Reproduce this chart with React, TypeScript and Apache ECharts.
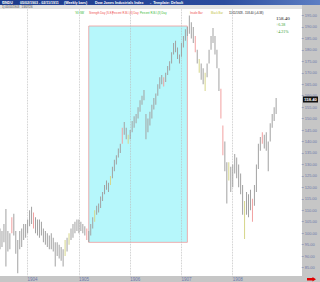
import React, { useEffect, useRef } from "react";
import * as echarts from "echarts";

// Time axis: one slot ≈ two weeks; year boundaries fall on these slots
const yearLabels = ["1904", "1905", "1906", "1907", "1908"];
const yearIndex = [14, 40, 66, 92, 118];
const totalSlots = 154;

// Bar lows / highs
const lows = [
  93, 94, 96, 85.5, 92, 93, 100, 99, 91, 82.5,
  93, 94, 97, 98, 100, 103, 104, 102, 100, 99,
  98, 99, 96, 95, 94, 93, 93, 92, 85.5, 90,
  89, 88, 85.5, 90, 92, 95, 97, 98, 100, 101,
  100, 101, 100, 99, 97, 96, 99, 102, 105, 108,
  109, 111, 114, 117, 119, 118, 121, 124, 127, 130,
  133, 135, 139, 143, 141, 139, 141, 144, 146, 148,
  150, 153, 156, 158, 141, 144, 147, 150, 154, 156,
  160, 163, 165, 164, 166, 169, 171, 174, 178, 179,
  176, 174, 177, 181, 184, 186, 187, 185, 183, 179,
  174, 170, 167, 165, 162, 168, 174, 180, 183, 178,
  172, 162, 150, 134, 127, 113, 123, 118, 120, 126,
  124, 120, 117, 108, 97.5, 108, 107, 110, 105, 112,
  118, 128, 136, 139, 137, 136, 127, 140, 146, 149,
  152,
];
const highs = [
  102, 101, 104, 110.5, 101, 100, 107, 108.5, 101, 97,
  101, 102, 104, 104, 106, 110, 111.5, 109, 107, 106,
  106, 105, 102, 101, 100, 99, 100, 98, 96, 96,
  95, 94, 93, 97, 98, 100, 102, 104, 105, 106,
  106, 105, 104, 103, 102, 101, 104, 107, 110, 112,
  113, 116, 118, 121, 123, 122, 125, 129, 132, 134,
  137, 139, 146, 148.5, 146, 143, 145, 149, 151, 152,
  155, 158, 160, 162.5, 152, 150, 153, 156, 159, 161,
  165, 168, 169, 168, 170, 173, 175, 179, 183, 184,
  181, 178, 183, 186, 189, 190, 195, 192, 190, 186,
  180, 176, 174, 172, 170, 174, 180, 186, 189.5, 186,
  180, 172, 163, 147, 140, 131, 131, 129, 130, 134.5,
  133, 130, 126, 121, 114, 118, 117, 119, 115, 121,
  130, 139, 142, 144, 143, 144, 140, 148, 152, 155,
  159,
];
const redBars = [6, 17, 44, 62, 83, 99, 112, 113, 128, 133];
const yellowBars = [33, 35, 48, 56, 65, 101, 104, 116, 124];
const barColors = ["#a2a2a2", "#f2a0a0", "#d6d68a"];

// Highlight box (slot range and price range)
const boxStart = 45;
const boxEnd = 95;
const boxLow = 96;
const boxHigh = 190.4;

const lastPrice = "158.40";
const change = "+6.38";
const changePct = "+4.21%";

const titleParts = [
  { text: "$INDU", x: 2 },
  { text: "05/02/1903 - 02/11/1911", x: 20 },
  { text: "(Weekly bars)", x: 64 },
  { text: "Dow Jones Industrials Index", x: 95 },
  { text: "-  Template: Default", x: 150 },
];
const legendItems = [
  { text: "'93 ISB'", x: 75, color: "#33b833" },
  { text: "Strength Day (S.E.)", x: 89, color: "#ee4a4a" },
  { text: "Percent R.B.I.(3) Day", x: 112, color: "#ee4a4a" },
  { text: "Percent R.B.I.(3) Day", x: 140, color: "#33b833" },
  { text: "Inside Bar", x: 190, color: "#ee4a4a" },
  { text: "Black Bar", x: 211, color: "#c2c23c" },
  { text: "11/11/1928 - 158.40 (+6.38)", x: 229, color: "#111" },
];

const FONT = "Liberation Sans";

export default function App() {
  const ref = useRef<HTMLDivElement>(null);

  useEffect(() => {
    if (!ref.current) return;
    const chart = echarts.init(ref.current, undefined, { renderer: "svg" });
    const cats = Array.from({ length: totalSlots }, (_, i) => String(i));
    const barData = lows.map((l, i) => [
      i,
      l,
      highs[i],
      redBars.includes(i) ? 1 : yellowBars.includes(i) ? 2 : 0,
    ]);
    const isYear = (idx: number) => yearIndex.includes(idx);

    const graphic: any[] = [
      { type: "rect", z: 0.5, shape: { x: 302, y: 5, width: 18, height: 277 }, style: { fill: "#c6c6c6" } },
      { type: "rect", z: 0.5, shape: { x: 0, y: 276, width: 320, height: 6 }, style: { fill: "#c6c6c6" } },
      {
        type: "rect", z: 100, shape: { x: 0, y: 0, width: 320, height: 5 },
        style: {
          fill: new echarts.graphic.LinearGradient(0, 0, 1, 0, [
            { offset: 0, color: "#1d3b8c" },
            { offset: 0.7, color: "#2b4c9e" },
            { offset: 1, color: "#5d7fc4" },
          ]),
        },
      },
      { type: "rect", z: 100, shape: { x: 0, y: 5, width: 302, height: 4 }, style: { fill: "#e2e2e2" } },
      { type: "text", z: 101, x: 2, y: 7, style: { text: "1) 05/05/1903   13/07/26", fill: "#444", fontSize: 2.8, fontFamily: FONT, verticalAlign: "middle" } },
      ...titleParts.map((t) => ({
        type: "text", z: 101, x: t.x, y: 2.6,
        style: { text: t.text, fill: "#fff", fontSize: 3.6, fontWeight: "bold", fontFamily: FONT, verticalAlign: "middle" },
      })),
      ...legendItems.map((t) => ({
        type: "text", z: 101, x: t.x, y: 12.5,
        style: { text: t.text, fill: t.color, fontSize: 2.8, fontFamily: FONT, verticalAlign: "middle" },
      })),
      { type: "text", z: 101, x: 276, y: 18, style: { text: lastPrice, fill: "#111", fontSize: 5, fontFamily: "Liberation Serif", verticalAlign: "middle" } },
      { type: "text", z: 101, x: 276, y: 24.5, style: { text: change, fill: "#2a9a2a", fontSize: 4, fontFamily: "Liberation Serif", verticalAlign: "middle" } },
      { type: "text", z: 101, x: 276, y: 31, style: { text: changePct, fill: "#2a9a2a", fontSize: 4, fontFamily: "Liberation Serif", verticalAlign: "middle" } },
      { type: "rect", z: 102, shape: { x: 303, y: 96.5, width: 15, height: 6 }, style: { fill: "#111" } },
      { type: "text", z: 103, x: 304, y: 99.6, style: { text: lastPrice, fill: "#fff", fontSize: 4.2, fontWeight: "bold", fontFamily: FONT, verticalAlign: "middle" } },
      {
        type: "polygon", z: 102,
        shape: { points: [[307, 278], [312.5, 278], [312.5, 277], [316, 279.3], [312.5, 281.6], [312.5, 280.6], [307, 280.6]] },
        style: { fill: "#e00000" },
      },
    ];

    chart.setOption({
      animation: false,
      backgroundColor: "#ffffff",
      textStyle: { fontFamily: FONT },
      grid: { left: 0, right: 18, top: 4, bottom: 3, containLabel: false },
      xAxis: {
        type: "category",
        data: cats,
        boundaryGap: false,
        z: 2,
        axisLine: { show: false },
        axisTick: { show: false, interval: isYear },
        axisLabel: {
          interval: isYear,
          formatter: (_v: string, idx: number) => yearLabels[yearIndex.indexOf(idx)] ?? "",
          fontSize: 4.5,
          color: "#6d78aa",
          align: "left",
          margin: -2.5,
          fontFamily: FONT,
        },
        splitLine: { show: true, interval: isYear, lineStyle: { color: "#bdbdbd", type: "dotted", width: 0.8 } },
      },
      yAxis: {
        type: "value",
        position: "right",
        min: 80,
        max: 200,
        interval: 5,
        z: 60,
        axisLine: { show: false },
        axisTick: { show: true, length: 2, lineStyle: { color: "#7a84b0", width: 0.6 } },
        axisLabel: {
          formatter: (v: number) => v.toFixed(2),
          fontSize: 4,
          color: "#6d78aa",
          margin: 3,
          showMinLabel: false,
          showMaxLabel: false,
          fontFamily: FONT,
        },
        splitLine: { show: false },
      },
      series: [
        {
          type: "custom",
          z: 1,
          silent: true,
          data: [[boxStart, boxEnd, boxLow, boxHigh]],
          encode: { x: [0, 1], y: [2, 3] },
          renderItem: (_p: any, api: any) => {
            const a = api.coord([api.value(0), api.value(3)]);
            const b = api.coord([api.value(1), api.value(2)]);
            return {
              type: "rect",
              shape: { x: a[0], y: a[1], width: b[0] - a[0], height: b[1] - a[1] },
              style: { fill: "#b6f7fb", stroke: "#ee9a9a", lineWidth: 0.8 },
            };
          },
        },
        {
          type: "custom",
          z: 3,
          silent: true,
          data: barData,
          encode: { x: 0, y: [1, 2] },
          renderItem: (_p: any, api: any) => {
            const lo = api.coord([api.value(0), api.value(1)]);
            const hi = api.coord([api.value(0), api.value(2)]);
            return {
              type: "rect",
              shape: { x: lo[0] - 0.5, y: hi[1], width: 1, height: lo[1] - hi[1] },
              style: { fill: barColors[api.value(3)] },
            };
          },
        },
      ],
      graphic,
    });
    return () => chart.dispose();
  }, []);

  return (
    <div
      ref={ref}
      style={{ position: "fixed", left: 0, top: 0, width: 320, height: 282, background: "#fff" }}
    />
  );
}
